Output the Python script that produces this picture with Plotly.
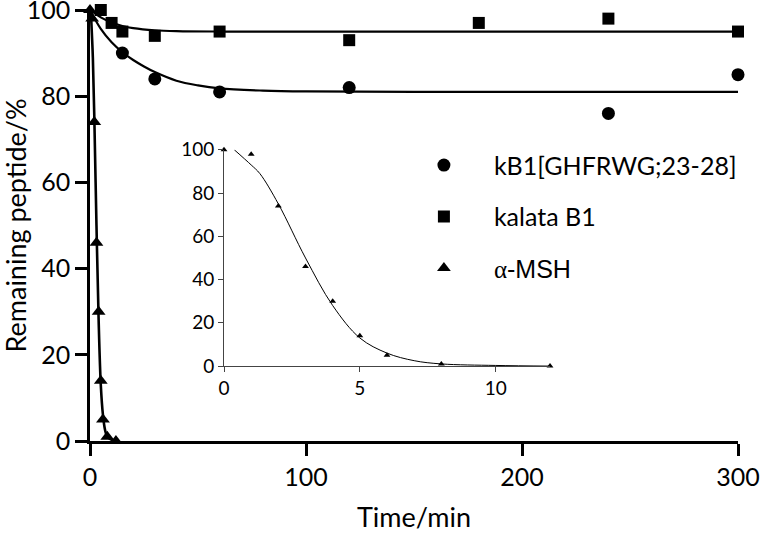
import plotly.graph_objects as go

# ---- data ----
kb1_t = [15, 30, 60, 120, 240, 300]
kb1_y = [90, 84, 81, 82, 76, 85]
kb1_fit_t = [0, 5, 10, 15, 20, 25, 30, 40, 50, 60, 80, 100, 150, 300]
kb1_fit_y = [100, 95.6, 92.5, 90.2, 88.4, 86.9, 85.6, 83.6, 82.5, 81.8, 81.3, 81.1, 81.0, 81.0]

kal_t = [5, 10, 15, 30, 60, 120, 180, 240, 300]
kal_y = [100, 97, 95, 94, 95, 93, 97, 98, 95]
kal_fit_t = [0, 5, 10, 15, 20, 30, 40, 60, 300]
kal_fit_y = [100, 98.3, 97.1, 96.3, 95.8, 95.3, 95.1, 95.0, 95.0]

msh_t = [0, 1, 2, 3, 4, 5, 6, 8, 12]
msh_y = [100, 98, 74, 46, 30, 14, 5, 1, 0]
msh_fit_t = [0.38, 1, 1.32, 2, 3, 4, 5, 6, 7, 8, 10, 12]
msh_fit_y = [100, 93, 89, 75, 50, 28, 13, 6, 2.5, 1, 0.3, 0]

main_xticks = [0, 100, 200, 300]
main_yticks = [0, 20, 40, 60, 80, 100]
inset_xticks = [0, 5, 10]
inset_yticks = [0, 20, 40, 60, 80, 100]

names = ["kB1[GHFRWG;23-28]", "kalata B1",
         "<span style=\"font-family:'Liberation Serif'\">α</span>"
         "<span style=\"font-family:'Liberation Sans'\">-MSH</span>"]

FONT = "Lato"
fig = go.Figure()

# main fitted curves
for tx, ty, w in [(kb1_fit_t, kb1_fit_y, 2.2), (kal_fit_t, kal_fit_y, 2.2), (msh_fit_t, msh_fit_y, 2.6)]:
    fig.add_trace(go.Scatter(x=tx, y=ty, mode="lines", line=dict(color="black", width=w, shape="spline"),
                             showlegend=False, hoverinfo="skip", cliponaxis=False))

# main markers
fig.add_trace(go.Scatter(x=kb1_t, y=kb1_y, mode="markers", name=names[0], legendgroup="a",
                         marker=dict(symbol="circle", size=13, color="black"), cliponaxis=False))
fig.add_trace(go.Scatter(x=kal_t, y=kal_y, mode="markers", name=names[1], legendgroup="b",
                         marker=dict(symbol="square", size=12, color="black"), cliponaxis=False))
fig.add_trace(go.Scatter(x=msh_t, y=msh_y, mode="markers", name=names[2], legendgroup="c",
                         marker=dict(symbol="triangle-up", size=12, color="black"), cliponaxis=False))

# inset
fig.add_trace(go.Scatter(x=msh_fit_t, y=msh_fit_y, mode="lines", xaxis="x2", yaxis="y2",
                         line=dict(color="black", width=1, shape="spline"), showlegend=False,
                         hoverinfo="skip", cliponaxis=False))
fig.add_trace(go.Scatter(x=msh_t, y=msh_y, mode="markers", xaxis="x2", yaxis="y2",
                         marker=dict(symbol="triangle-up", size=6, color="black"), showlegend=False,
                         cliponaxis=False))

fig.update_layout(
    width=760, height=533,
    margin=dict(l=90, r=22, t=10, b=92),
    paper_bgcolor="white", plot_bgcolor="white",
    font=dict(family=FONT, color="black", size=25),
    xaxis=dict(range=[0, 300], tickvals=main_xticks, showgrid=False, zeroline=False, automargin=False,
               showline=True, linecolor="black", linewidth=2.5, ticks="outside", ticklen=12,
               tickwidth=2.5, tickcolor="black", tickfont=dict(size=25, family=FONT),
               ticklabeloverflow="allow",
               title=dict(text="Time/min", font=dict(size=27, family=FONT), standoff=22)),
    yaxis=dict(range=[0, 100], tickvals=main_yticks, showgrid=False, zeroline=False, automargin=False,
               showline=True, linecolor="black", linewidth=2.5, ticks="outside", ticklen=12,
               tickwidth=2.5, tickcolor="black", tickfont=dict(size=25, family=FONT),
               ticklabeloverflow="allow"),
    xaxis2=dict(domain=[0.2068, 0.7099], anchor="y2", range=[0, 12], tickvals=inset_xticks,
                showgrid=False, zeroline=False, showline=True, linecolor="#444", linewidth=1,
                ticks="outside", ticklen=5, tickwidth=1, tickcolor="#444", automargin=False,
                tickfont=dict(size=19, family=FONT)),
    yaxis2=dict(domain=[0.1738, 0.6756], anchor="x2", range=[0, 100], tickvals=inset_yticks,
                showgrid=False, zeroline=False, showline=True, linecolor="#444", linewidth=1,
                ticks="outside", ticklen=5, tickwidth=1, tickcolor="#444", automargin=False,
                tickfont=dict(size=19, family=FONT)),
    legend=dict(x=0.469, y=0.693, xanchor="left", yanchor="top", bgcolor="rgba(0,0,0,0)",
                font=dict(size=25, family=FONT), itemwidth=90, tracegroupgap=16),
    showlegend=True,
    annotations=[dict(text="Remaining peptide/%", xref="paper", yref="paper", x=-0.1157, y=0.5,
                      xanchor="center", yanchor="middle", textangle=-90, showarrow=False,
                      font=dict(size=27, family=FONT, color="black"))],
)

fig.write_html("out.html", config={"displayModeBar": False},
               post_script="document.body.style.margin='0';")
